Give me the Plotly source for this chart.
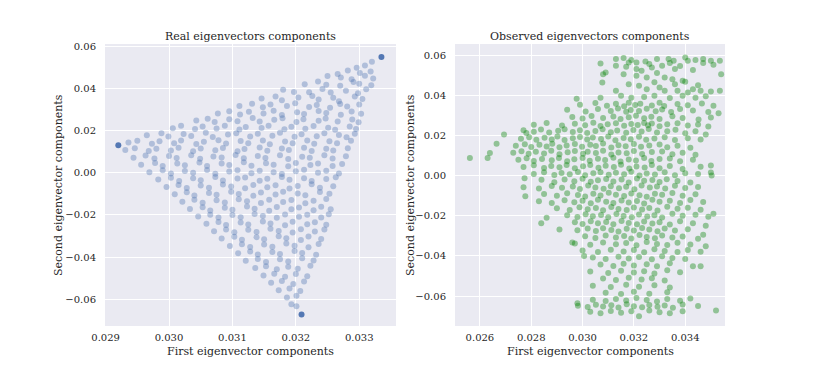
import plotly.graph_objects as go

# ---- Real eigenvectors components (left panel) ----
real_x = [
    0.03320, 0.03309, 0.03296,
    0.03282, 0.03301, 0.03318, 0.03266,
    0.03250, 0.03271, 0.03288, 0.03309, 0.03322,
    0.03214, 0.03235, 0.03248, 0.03270, 0.03291, 0.03300, 0.03319,
    0.03180, 0.03197, 0.03221, 0.03242, 0.03255, 0.03279, 0.03298, 0.03311,
    0.03146, 0.03168, 0.03178, 0.03204, 0.03226, 0.03236, 0.03259, 0.03268, 0.03293, 0.03305,
    0.03111, 0.03131, 0.03148, 0.03160, 0.03186, 0.03199, 0.03221, 0.03233, 0.03254, 0.03270, 0.03281, 0.03300,
    0.03077, 0.03095, 0.03112, 0.03126, 0.03149, 0.03165, 0.03178, 0.03202, 0.03213, 0.03236, 0.03248, 0.03271, 0.03288, 0.03303,
    0.03043, 0.03061, 0.03072, 0.03095, 0.03108, 0.03132, 0.03143, 0.03166, 0.03179, 0.03201, 0.03212, 0.03236, 0.03247, 0.03266, 0.03289, 0.03299,
    0.03006, 0.03019, 0.03041, 0.03053, 0.03075, 0.03088, 0.03111, 0.03121, 0.03146, 0.03157, 0.03182, 0.03193, 0.03215, 0.03228, 0.03251, 0.03262, 0.03285, 0.03295,
    0.02965, 0.02988, 0.02999, 0.03023, 0.03035, 0.03058, 0.03069, 0.03093, 0.03106, 0.03128, 0.03140, 0.03163, 0.03175, 0.03198, 0.03209, 0.03233, 0.03245, 0.03268, 0.03280, 0.03293,
    0.02936, 0.02950, 0.02973, 0.02985, 0.03008, 0.03019, 0.03043, 0.03055, 0.03078, 0.03090, 0.03113, 0.03125, 0.03148, 0.03159, 0.03183, 0.03195, 0.03218, 0.03229, 0.03253, 0.03265, 0.03287,
    0.02931, 0.02946, 0.02968, 0.02980, 0.03003, 0.03015, 0.03038, 0.03050, 0.03073, 0.03085, 0.03108, 0.03119, 0.03143, 0.03155, 0.03178, 0.03189, 0.03213, 0.03225, 0.03248, 0.03259, 0.03282,
    0.02944, 0.02963, 0.02977, 0.03000, 0.03012, 0.03035, 0.03049, 0.03070, 0.03083, 0.03105, 0.03118, 0.03140, 0.03152, 0.03175, 0.03188, 0.03210, 0.03222, 0.03245, 0.03258, 0.03279,
    0.02956, 0.02978, 0.02990, 0.03013, 0.03025, 0.03048, 0.03060, 0.03083, 0.03095, 0.03118, 0.03130, 0.03153, 0.03165, 0.03188, 0.03200, 0.03223, 0.03235, 0.03258, 0.03273,
    0.02969, 0.02990, 0.03003, 0.03025, 0.03038, 0.03060, 0.03073, 0.03095, 0.03108, 0.03130, 0.03143, 0.03165, 0.03178, 0.03200, 0.03213, 0.03235, 0.03248, 0.03268,
    0.02983, 0.03003, 0.03016, 0.03038, 0.03050, 0.03073, 0.03085, 0.03108, 0.03120, 0.03143, 0.03155, 0.03178, 0.03190, 0.03213, 0.03225, 0.03248, 0.03263,
    0.02996, 0.03015, 0.03028, 0.03050, 0.03063, 0.03085, 0.03098, 0.03120, 0.03133, 0.03155, 0.03168, 0.03190, 0.03203, 0.03225, 0.03238, 0.03259,
    0.03009, 0.03028, 0.03040, 0.03063, 0.03075, 0.03098, 0.03110, 0.03133, 0.03145, 0.03168, 0.03180, 0.03203, 0.03215, 0.03238, 0.03253,
    0.03021, 0.03040, 0.03053, 0.03075, 0.03088, 0.03110, 0.03123, 0.03145, 0.03158, 0.03180, 0.03193, 0.03215, 0.03228, 0.03248,
    0.03033, 0.03053, 0.03065, 0.03088, 0.03100, 0.03123, 0.03135, 0.03158, 0.03170, 0.03193, 0.03205, 0.03228, 0.03240, 0.03255,
    0.03046, 0.03065, 0.03078, 0.03100, 0.03113, 0.03135, 0.03148, 0.03170, 0.03183, 0.03205, 0.03218, 0.03240, 0.03252,
    0.03059, 0.03078, 0.03090, 0.03113, 0.03125, 0.03148, 0.03160, 0.03183, 0.03195, 0.03218, 0.03230, 0.03248,
    0.03071, 0.03090, 0.03103, 0.03125, 0.03138, 0.03160, 0.03173, 0.03195, 0.03208, 0.03230, 0.03245,
    0.03083, 0.03103, 0.03115, 0.03138, 0.03150, 0.03173, 0.03185, 0.03208, 0.03220, 0.03240,
    0.03096, 0.03115, 0.03128, 0.03150, 0.03163, 0.03185, 0.03198, 0.03220, 0.03236,
    0.03109, 0.03128, 0.03140, 0.03163, 0.03175, 0.03198, 0.03210, 0.03232,
    0.03121, 0.03140, 0.03153, 0.03175, 0.03188, 0.03210, 0.03228,
    0.03136, 0.03153, 0.03170, 0.03188, 0.03203, 0.03223,
    0.03149, 0.03166, 0.03183, 0.03200, 0.03218,
    0.03161, 0.03178, 0.03196, 0.03213,
    0.03173, 0.03190, 0.03207,
    0.03186, 0.03201,
    0.03193, 0.03201,
]
real_y = [
    0.0526, 0.0508, 0.0497,
    0.0484, 0.0472, 0.0480, 0.0468,
    0.0458, 0.0451, 0.0443, 0.0460, 0.0447,
    0.0419, 0.0432, 0.0417, 0.0412, 0.0430, 0.0421, 0.0415,
    0.0393, 0.0383, 0.0381, 0.0397, 0.0380, 0.0388, 0.0376, 0.0396,
    0.0352, 0.0361, 0.0343, 0.0356, 0.0364, 0.0347, 0.0355, 0.0339, 0.0361, 0.0349,
    0.0316, 0.0327, 0.0310, 0.0323, 0.0316, 0.0329, 0.0311, 0.0321, 0.0308, 0.0326, 0.0314, 0.0323,
    0.0281, 0.0291, 0.0276, 0.0289, 0.0281, 0.0293, 0.0273, 0.0287, 0.0278, 0.0292, 0.0283, 0.0275, 0.0290, 0.0279,
    0.0247, 0.0256, 0.0240, 0.0253, 0.0244, 0.0259, 0.0242, 0.0251, 0.0258, 0.0240, 0.0253, 0.0246, 0.0257, 0.0242, 0.0252, 0.0239,
    0.0211, 0.0222, 0.0207, 0.0219, 0.0209, 0.0223, 0.0205, 0.0217, 0.0212, 0.0223, 0.0206, 0.0218, 0.0208, 0.0221, 0.0213, 0.0204, 0.0219, 0.0207,
    0.0177, 0.0187, 0.0171, 0.0183, 0.0174, 0.0189, 0.0169, 0.0181, 0.0187, 0.0172, 0.0184, 0.0175, 0.0189, 0.0170, 0.0182, 0.0173, 0.0187, 0.0178, 0.0168, 0.0185,
    0.0143, 0.0151, 0.0137, 0.0149, 0.0139, 0.0153, 0.0136, 0.0147, 0.0154, 0.0138, 0.0150, 0.0140, 0.0153, 0.0135, 0.0148, 0.0139, 0.0152, 0.0137, 0.0149, 0.0140, 0.0151,
    0.0107, 0.0116, 0.0103, 0.0113, 0.0105, 0.0118, 0.0102, 0.0114, 0.0106, 0.0117, 0.0101, 0.0112, 0.0119, 0.0104, 0.0115, 0.0107, 0.0118, 0.0103, 0.0113, 0.0105, 0.0116,
    0.0071, 0.0081, 0.0067, 0.0079, 0.0070, 0.0083, 0.0066, 0.0077, 0.0072, 0.0084, 0.0068, 0.0079, 0.0070, 0.0082, 0.0065, 0.0076, 0.0071, 0.0083, 0.0067, 0.0078,
    0.0037, 0.0046, 0.0032, 0.0044, 0.0035, 0.0048, 0.0031, 0.0043, 0.0036, 0.0049, 0.0033, 0.0045, 0.0038, 0.0030, 0.0046, 0.0036, 0.0044, 0.0032, 0.0041,
    0.0002, 0.0011, -0.0004, 0.0008, 0.0000, 0.0013, -0.0005, 0.0006, 0.0012, -0.0003, 0.0009, 0.0002, -0.0006, 0.0007, 0.0014, -0.0001, 0.0009, -0.0004,
    -0.0033, -0.0024, -0.0039, -0.0027, -0.0036, -0.0021, -0.0037, -0.0028, -0.0023, -0.0038, -0.0029, -0.0020, -0.0034, -0.0026, -0.0039, -0.0030, -0.0022,
    -0.0068, -0.0059, -0.0073, -0.0061, -0.0071, -0.0056, -0.0066, -0.0074, -0.0058, -0.0069, -0.0060, -0.0075, -0.0063, -0.0055, -0.0071, -0.0064,
    -0.0102, -0.0093, -0.0108, -0.0096, -0.0105, -0.0091, -0.0101, -0.0109, -0.0094, -0.0104, -0.0090, -0.0099, -0.0107, -0.0092, -0.0100,
    -0.0138, -0.0129, -0.0143, -0.0131, -0.0141, -0.0126, -0.0136, -0.0144, -0.0128, -0.0139, -0.0130, -0.0145, -0.0133, -0.0125,
    -0.0172, -0.0164, -0.0179, -0.0166, -0.0176, -0.0161, -0.0171, -0.0180, -0.0163, -0.0174, -0.0165, -0.0178, -0.0162, -0.0173,
    -0.0208, -0.0199, -0.0213, -0.0201, -0.0211, -0.0196, -0.0206, -0.0214, -0.0198, -0.0209, -0.0200, -0.0212, -0.0197,
    -0.0242, -0.0234, -0.0248, -0.0236, -0.0246, -0.0231, -0.0241, -0.0249, -0.0233, -0.0244, -0.0235, -0.0247,
    -0.0278, -0.0269, -0.0283, -0.0271, -0.0281, -0.0266, -0.0276, -0.0284, -0.0268, -0.0279, -0.0270,
    -0.0312, -0.0304, -0.0318, -0.0306, -0.0316, -0.0301, -0.0311, -0.0319, -0.0303, -0.0314,
    -0.0348, -0.0339, -0.0353, -0.0341, -0.0351, -0.0336, -0.0346, -0.0354, -0.0338,
    -0.0382, -0.0374, -0.0388, -0.0376, -0.0386, -0.0371, -0.0381, -0.0389,
    -0.0418, -0.0409, -0.0423, -0.0411, -0.0421, -0.0406, -0.0416,
    -0.0452, -0.0444, -0.0458, -0.0446, -0.0456, -0.0441,
    -0.0488, -0.0479, -0.0493, -0.0481, -0.0491,
    -0.0522, -0.0514, -0.0528, -0.0516,
    -0.0558, -0.0549, -0.0561,
    -0.0592, -0.0584,
    -0.0624, -0.0633,
]
# the three extreme (vertex) components, drawn solid
vertex_x = [0.02920, 0.03335, 0.03209]
vertex_y = [0.0130, 0.0548, -0.0672]

# ---- Observed eigenvectors components (right panel) ----
obs_x = [
    0.0313, 0.0316, 0.0319, 0.03245, 0.0329, 0.03335, 0.03355, 0.0340, 0.0341, 0.0344, 0.0347, 0.0350, 0.03535,
    0.0307, 0.0313, 0.0317, 0.0318, 0.0321, 0.0321, 0.0326, 0.0327, 0.0331, 0.0334, 0.0336, 0.0338, 0.0343, 0.0347, 0.0351,
    0.0308, 0.0309, 0.0316, 0.0321, 0.0323, 0.0325, 0.0329, 0.0332, 0.0335, 0.0354,
    0.03077, 0.0318, 0.0322, 0.0328, 0.0336, 0.0339, 0.0340, 0.0345,
    0.0313, 0.0325, 0.0330, 0.0332, 0.0337, 0.0341, 0.0343, 0.0346, 0.0350, 0.03535,
    0.02977, 0.0307, 0.0315, 0.0319, 0.0324, 0.0328, 0.0334, 0.0339, 0.0344, 0.0348,
    0.0299, 0.0305, 0.03095, 0.0313, 0.03162, 0.0318, 0.03205, 0.03225, 0.0327, 0.0330, 0.03318, 0.0337, 0.0341, 0.03465, 0.0351,
    0.0294, 0.03012, 0.0306, 0.0311, 0.03138, 0.0317, 0.03188, 0.0322, 0.0325, 0.03285, 0.0331, 0.03345, 0.0338, 0.0343, 0.0349, 0.0353,
    0.0296, 0.0300, 0.03035, 0.0308, 0.0312, 0.03148, 0.0318, 0.03208, 0.0324, 0.03268, 0.0330, 0.0335, 0.0339, 0.03452, 0.0350,
    0.0281, 0.0286, 0.0292, 0.0297, 0.0301, 0.03042, 0.0307, 0.03098, 0.0313, 0.03162, 0.0319, 0.03215, 0.0324, 0.03255, 0.0327, 0.0330, 0.0333, 0.0337, 0.0341, 0.0345, 0.0349,
    0.0277, 0.0281, 0.02838, 0.0287, 0.02905, 0.0293, 0.02962, 0.0299, 0.03018, 0.0305, 0.03078, 0.0311, 0.03135, 0.0317, 0.03198, 0.0323, 0.03258, 0.0329, 0.0333, 0.03362, 0.0340, 0.0344, 0.0348,
    0.0276, 0.02792, 0.0282, 0.02852, 0.0288, 0.02902, 0.0293, 0.02962, 0.0299, 0.03018, 0.0304, 0.03072, 0.0310, 0.03128, 0.0316, 0.03188, 0.0322, 0.03248, 0.0328, 0.0332, 0.0336, 0.0341, 0.0346,
    0.0274, 0.02775, 0.0280, 0.02832, 0.0286, 0.02882, 0.0291, 0.02938, 0.0297, 0.02998, 0.0303, 0.03052, 0.0308, 0.03112, 0.0314, 0.03168, 0.0320, 0.03228, 0.0326, 0.0330, 0.0333, 0.0337, 0.0342,
    0.0273, 0.02762, 0.0279, 0.02818, 0.0285, 0.02878, 0.0291, 0.02942, 0.0297, 0.03002, 0.0302, 0.03052, 0.0308, 0.03112, 0.0314, 0.03172, 0.0320, 0.03232, 0.0327, 0.0331, 0.0335, 0.0339, 0.0344,
    0.0275, 0.02782, 0.0281, 0.02842, 0.0288, 0.02908, 0.0294, 0.02968, 0.0300, 0.03028, 0.0306, 0.03088, 0.0312, 0.03148, 0.0318, 0.03208, 0.0324, 0.03268, 0.0330, 0.0334, 0.0338, 0.0343, 0.0350,
    0.0277, 0.0281, 0.0285, 0.02878, 0.0291, 0.02938, 0.0297, 0.03002, 0.0303, 0.03062, 0.0309, 0.03122, 0.0315, 0.03182, 0.0321, 0.03242, 0.0327, 0.0330, 0.0334, 0.0339, 0.0346, 0.03503,
    0.0281, 0.0285, 0.0289, 0.02918, 0.0295, 0.02982, 0.0301, 0.03042, 0.0307, 0.03102, 0.0313, 0.03162, 0.0319, 0.03222, 0.0325, 0.03282, 0.0332, 0.0336, 0.0340, 0.0345, 0.0350,
    0.02774, 0.0284, 0.0289, 0.0293, 0.02968, 0.0300, 0.03032, 0.0306, 0.03092, 0.0312, 0.03152, 0.0318, 0.03212, 0.0324, 0.03272, 0.0330, 0.03328, 0.0337, 0.0342,
    0.0277, 0.0283, 0.0288, 0.0292, 0.02962, 0.0299, 0.03022, 0.0305, 0.03082, 0.0311, 0.03142, 0.0317, 0.03202, 0.0323, 0.03262, 0.0329, 0.03322, 0.0336, 0.0340, 0.0345,
    0.02777, 0.0285, 0.0290, 0.0294, 0.02982, 0.0301, 0.03042, 0.0307, 0.03102, 0.0313, 0.03162, 0.0319, 0.03222, 0.0325, 0.03282, 0.0331, 0.0335, 0.0339, 0.0344,
    0.0283, 0.0288, 0.0293, 0.02968, 0.0300, 0.03032, 0.0306, 0.03092, 0.0312, 0.03152, 0.0318, 0.03212, 0.0324, 0.03272, 0.0330, 0.0334, 0.0338, 0.0342, 0.0347,
    0.0290, 0.0295, 0.02988, 0.0302, 0.03052, 0.0308, 0.03112, 0.0314, 0.03172, 0.0320, 0.03232, 0.0326, 0.03292, 0.0333, 0.0337, 0.0341, 0.0346, 0.0351,
    0.0286, 0.0294, 0.0298, 0.03012, 0.0304, 0.03072, 0.0310, 0.03132, 0.0316, 0.03192, 0.0322, 0.03252, 0.0328, 0.0331, 0.0335, 0.0339, 0.0344, 0.0349,
    0.02839, 0.0297, 0.0300, 0.03032, 0.0306, 0.03092, 0.0312, 0.03152, 0.0318, 0.03212, 0.0324, 0.03272, 0.0330, 0.0334, 0.0338, 0.0343, 0.0348,
    0.0291, 0.0298, 0.0302, 0.03052, 0.0308, 0.03112, 0.0314, 0.03172, 0.0320, 0.03232, 0.0326, 0.03292, 0.0332, 0.0336, 0.0341, 0.0347,
    0.0301, 0.0305, 0.0309, 0.0313, 0.03162, 0.0319, 0.03222, 0.0325, 0.03282, 0.0331, 0.0335, 0.0339, 0.0345,
    0.0297, 0.0303, 0.0308, 0.0313, 0.0317, 0.0321, 0.0325, 0.0329, 0.0333, 0.0337, 0.0342, 0.0348,
    0.0300, 0.0306, 0.0311, 0.0316, 0.0320, 0.0324, 0.0328, 0.0332, 0.0337, 0.0341, 0.0346,
    0.0304, 0.0309, 0.0314, 0.0318, 0.0322, 0.0327, 0.0331, 0.0335, 0.0340,
    0.0307, 0.0312, 0.0316, 0.0320, 0.0325, 0.0329, 0.0334, 0.0343, 0.0346,
    0.0303, 0.0310, 0.0315, 0.0320, 0.0324, 0.0328, 0.0333, 0.0338,
    0.0308, 0.0313, 0.0318, 0.0323, 0.0327, 0.0332,
    0.0304, 0.0311, 0.0317, 0.0322, 0.0328, 0.0334,
    0.0309, 0.0315, 0.0320, 0.0326, 0.0333,
    0.0298, 0.0304, 0.0309, 0.0313, 0.0317, 0.0321, 0.0325, 0.0329, 0.0333, 0.0338, 0.0342,
    0.02982, 0.0302, 0.03052, 0.0308, 0.03112, 0.0314, 0.03172, 0.0320, 0.03232, 0.0326, 0.03292, 0.0332, 0.03352, 0.0339, 0.0345, 0.0352,
    0.0303, 0.0307, 0.0311, 0.0315, 0.0319, 0.0322, 0.0326, 0.0330, 0.0334, 0.0339,
    0.02561, 0.0263, 0.02639, 0.02665, 0.02694, 0.02781, 0.0296, 0.03006,
]
obs_y = [
    0.0580, 0.0585, 0.0575, 0.0568, 0.0580, 0.0580, 0.0572, 0.0588, 0.0572, 0.0575, 0.0580, 0.0572, 0.0572,
    0.0558, 0.0547, 0.0542, 0.0563, 0.0563, 0.0530, 0.0555, 0.0538, 0.0547, 0.0560, 0.0530, 0.0545, 0.0525, 0.0560, 0.0552,
    0.0505, 0.0513, 0.0505, 0.0497, 0.0522, 0.0488, 0.0510, 0.0488, 0.0480, 0.0505,
    0.0463, 0.0455, 0.0447, 0.0465, 0.0455, 0.0472, 0.0467, 0.0450,
    0.0422, 0.0430, 0.0438, 0.0422, 0.0422, 0.0413, 0.0430, 0.0422, 0.0418, 0.0422,
    0.0383, 0.0388, 0.0397, 0.0388, 0.0391, 0.0397, 0.0386, 0.0397, 0.0388, 0.0395,
    0.0352, 0.0361, 0.0348, 0.0357, 0.0345, 0.0362, 0.0351, 0.0358, 0.0349, 0.0363, 0.0346, 0.0356, 0.0350, 0.0359, 0.0347,
    0.0328, 0.0319, 0.0331, 0.0322, 0.0334, 0.0318, 0.0327, 0.0321, 0.0333, 0.0320, 0.0329, 0.0317, 0.0332, 0.0324, 0.0316, 0.0310,
    0.0291, 0.0284, 0.0297, 0.0287, 0.0294, 0.0282, 0.0290, 0.0298, 0.0285, 0.0293, 0.0281, 0.0295, 0.0286, 0.0279, 0.0289,
    0.0253, 0.0262, 0.0249, 0.0258, 0.0251, 0.0263, 0.0247, 0.0256, 0.0261, 0.0248, 0.0257, 0.0252, 0.0262, 0.0250, 0.0259, 0.0246, 0.0255, 0.0260, 0.0249, 0.0254, 0.0244,
    0.0226, 0.0218, 0.0229, 0.0215, 0.0223, 0.0231, 0.0217, 0.0225, 0.0212, 0.0222, 0.0230, 0.0216, 0.0224, 0.0213, 0.0227, 0.0219, 0.0232, 0.0214, 0.0221, 0.0228, 0.0211, 0.0220, 0.0204,
    0.0183, 0.0191, 0.0178, 0.0188, 0.0180, 0.0194, 0.0177, 0.0186, 0.0192, 0.0179, 0.0189, 0.0182, 0.0195, 0.0176, 0.0187, 0.0181, 0.0193, 0.0178, 0.0185, 0.0191, 0.0177, 0.0186, 0.0180,
    0.0148, 0.0156, 0.0142, 0.0153, 0.0145, 0.0158, 0.0141, 0.0150, 0.0157, 0.0144, 0.0154, 0.0147, 0.0159, 0.0140, 0.0151, 0.0146, 0.0157, 0.0143, 0.0150, 0.0155, 0.0141, 0.0149, 0.0138,
    0.0113, 0.0121, 0.0108, 0.0118, 0.0110, 0.0123, 0.0106, 0.0116, 0.0122, 0.0109, 0.0119, 0.0112, 0.0124, 0.0105, 0.0115, 0.0111, 0.0122, 0.0107, 0.0117, 0.0120, 0.0106, 0.0114, 0.0104,
    0.0079, 0.0086, 0.0073, 0.0083, 0.0076, 0.0088, 0.0071, 0.0081, 0.0087, 0.0074, 0.0084, 0.0077, 0.0089, 0.0070, 0.0080, 0.0075, 0.0087, 0.0072, 0.0082, 0.0085, 0.0071, 0.0079, 0.0050,
    0.0043, 0.0051, 0.0038, 0.0048, 0.0041, 0.0053, 0.0036, 0.0046, 0.0052, 0.0039, 0.0049, 0.0042, 0.0054, 0.0035, 0.0045, 0.0040, 0.0052, 0.0037, 0.0047, 0.0033, 0.0044, 0.0000,
    0.0008, 0.0016, 0.0003, 0.0013, 0.0006, 0.0018, 0.0001, 0.0011, 0.0017, 0.0004, 0.0014, 0.0007, 0.0019, 0.0000, 0.0010, 0.0005, 0.0016, 0.0002, 0.0012, 0.0008, 0.0015,
    -0.0013, -0.0021, -0.0033, -0.0019, -0.0028, -0.0016, -0.0031, -0.0023, -0.0017, -0.0030, -0.0020, -0.0034, -0.0015, -0.0026, -0.0022, -0.0032, -0.0018, -0.0027, -0.0035,
    -0.0058, -0.0064, -0.0052, -0.0061, -0.0055, -0.0067, -0.0050, -0.0060, -0.0066, -0.0053, -0.0063, -0.0056, -0.0068, -0.0049, -0.0059, -0.0054, -0.0065, -0.0051, -0.0062, -0.0057,
    -0.0103, -0.0092, -0.0100, -0.0088, -0.0097, -0.0104, -0.0090, -0.0099, -0.0086, -0.0095, -0.0102, -0.0089, -0.0098, -0.0105, -0.0091, -0.0096, -0.0087, -0.0101, -0.0093,
    -0.0128, -0.0136, -0.0123, -0.0133, -0.0126, -0.0138, -0.0121, -0.0131, -0.0137, -0.0124, -0.0134, -0.0127, -0.0139, -0.0120, -0.0130, -0.0125, -0.0136, -0.0122, -0.0132,
    -0.0163, -0.0171, -0.0158, -0.0168, -0.0161, -0.0173, -0.0156, -0.0166, -0.0172, -0.0159, -0.0169, -0.0162, -0.0174, -0.0155, -0.0165, -0.0160, -0.0170, -0.0190,
    -0.0210, -0.0198, -0.0206, -0.0193, -0.0203, -0.0196, -0.0208, -0.0191, -0.0201, -0.0207, -0.0194, -0.0204, -0.0197, -0.0209, -0.0190, -0.0200, -0.0195, -0.0205,
    -0.0238, -0.0233, -0.0241, -0.0228, -0.0238, -0.0231, -0.0243, -0.0226, -0.0236, -0.0242, -0.0229, -0.0239, -0.0232, -0.0244, -0.0227, -0.0237, -0.0250,
    -0.0268, -0.0272, -0.0264, -0.0276, -0.0262, -0.0271, -0.0278, -0.0265, -0.0274, -0.0261, -0.0269, -0.0277, -0.0263, -0.0273, -0.0267, -0.0295,
    -0.0302, -0.0311, -0.0298, -0.0308, -0.0301, -0.0313, -0.0296, -0.0306, -0.0312, -0.0299, -0.0309, -0.0303, -0.0315,
    -0.0338, -0.0345, -0.0333, -0.0342, -0.0336, -0.0347, -0.0331, -0.0341, -0.0346, -0.0334, -0.0343, -0.0352,
    -0.0373, -0.0380, -0.0369, -0.0378, -0.0371, -0.0382, -0.0367, -0.0376, -0.0381, -0.0370, -0.0379,
    -0.0408, -0.0415, -0.0404, -0.0413, -0.0406, -0.0417, -0.0402, -0.0411, -0.0416,
    -0.0443, -0.0450, -0.0439, -0.0448, -0.0441, -0.0452, -0.0437, -0.0452, -0.0452,
    -0.0478, -0.0485, -0.0474, -0.0483, -0.0476, -0.0487, -0.0472, -0.0481,
    -0.0513, -0.0520, -0.0509, -0.0518, -0.0511, -0.0522,
    -0.0548, -0.0555, -0.0544, -0.0553, -0.0546, -0.0557,
    -0.0583, -0.0590, -0.0579, -0.0588, -0.0581,
    -0.0636, -0.0618, -0.0625, -0.0614, -0.0622, -0.0610, -0.0620, -0.0627, -0.0615, -0.0623, -0.0612,
    -0.0648, -0.0655, -0.0643, -0.0652, -0.0646, -0.0657, -0.0641, -0.0651, -0.0656, -0.0644, -0.0653, -0.0647, -0.0658, -0.0642, -0.0650, -0.0672,
    -0.0678, -0.0685, -0.0674, -0.0683, -0.0676, -0.0700, -0.0672, -0.0681, -0.0686, -0.0675,
    0.0087, 0.0087, 0.0112, 0.0158, 0.0205, 0.0212, -0.0333, -0.0400,
]

real_xticks = [0.029, 0.030, 0.031, 0.032, 0.033]
obs_xticks = [0.026, 0.028, 0.030, 0.032, 0.034, 0.036]
yticks = [-0.06, -0.04, -0.02, 0.00, 0.02, 0.04, 0.06]

SERIF = "DejaVu Serif"
TXT = "#262626"
BLUE = "#4C72B0"
GREEN = "#008000"
W, H = 830, 369
OFF = 8  # page body margin pushes the figure 8 px right and down


def px_x(p):
    return (p - OFF) / W


def px_y(p):
    return 1 - (p - OFF) / H


def ytext(v):
    return f"{v:.2f}".replace("-", "\u2212")


fig = go.Figure()
fig.add_trace(go.Scatter(x=real_x, y=real_y, mode="markers", xaxis="x", yaxis="y",
                         marker=dict(size=6, color=BLUE, opacity=0.36, line=dict(width=0)),
                         showlegend=False, hoverinfo="skip"))
fig.add_trace(go.Scatter(x=vertex_x, y=vertex_y, mode="markers", xaxis="x", yaxis="y",
                         marker=dict(size=6, color=BLUE, opacity=0.95, line=dict(width=0)),
                         showlegend=False, hoverinfo="skip"))
fig.add_trace(go.Scatter(x=obs_x, y=obs_y, mode="markers", xaxis="x2", yaxis="y2",
                         marker=dict(size=6, color=GREEN, opacity=0.38, line=dict(width=0)),
                         showlegend=False, hoverinfo="skip"))

common = dict(showgrid=True, gridcolor="white", gridwidth=1, zeroline=False,
              showline=False, ticks="outside", tickcolor="rgba(0,0,0,0)",
              automargin=False, tickfont=dict(family=SERIF, size=10, color=TXT))
xcommon = dict(ticklen=2, **common)
ycommon = dict(ticklen=6, **common)
ydom = [px_y(326), px_y(44)]

fig.update_layout(
    width=W, height=H, autosize=False,
    margin=dict(l=0, r=0, t=0, b=0, pad=0),
    paper_bgcolor="white", plot_bgcolor="#EAEAF2",
    xaxis=dict(domain=[px_x(105), px_x(396)], range=[0.02899, 0.03358], anchor="y",
               tickvals=real_xticks, ticktext=[f"{v:.3f}" for v in real_xticks], **xcommon),
    yaxis=dict(domain=ydom, range=[-0.0727, 0.0610], anchor="x",
               tickvals=yticks, ticktext=[ytext(v) for v in yticks], **ycommon),
    xaxis2=dict(domain=[px_x(455), px_x(725)], range=[0.02503, 0.03555], anchor="y2",
                tickvals=obs_xticks, ticktext=[f"{v:.3f}" for v in obs_xticks], **xcommon),
    yaxis2=dict(domain=ydom, range=[-0.0749, 0.0655], anchor="x2",
                tickvals=yticks, ticktext=[ytext(v) for v in yticks], **ycommon),
)

font_lbl = dict(family=SERIF, size=11, color=TXT)
notes = [
    dict(text="Real eigenvectors components", x=px_x(250.5), y=px_y(37)),
    dict(text="Observed eigenvectors components", x=px_x(590), y=px_y(37)),
    dict(text="First eigenvector components", x=px_x(250.5), y=px_y(351)),
    dict(text="First eigenvector components", x=px_x(590), y=px_y(351)),
    dict(text="Second eigenvector components", x=px_x(58), y=px_y(185), textangle=-90),
    dict(text="Second eigenvector components", x=px_x(410), y=px_y(185), textangle=-90),
]
for n in notes:
    fig.add_annotation(xref="paper", yref="paper", showarrow=False, font=font_lbl,
                       xanchor="center", yanchor="middle", **n)

fig.write_html("out.html")
